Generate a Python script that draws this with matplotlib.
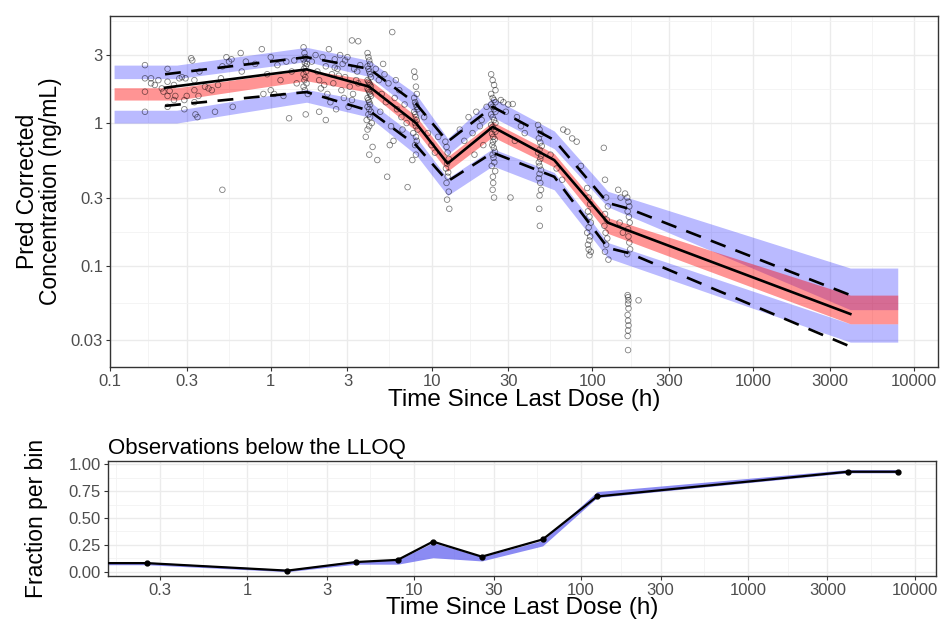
import numpy as np
import matplotlib
matplotlib.use('Agg')
import matplotlib.pyplot as plt
from matplotlib.ticker import FixedLocator, FixedFormatter, NullFormatter

plt.rcParams['font.family'] = ['Liberation Sans', 'DejaVu Sans']

t1 = [0.165, 0.165, 0.165, 0.165, 0.18, 0.18, 0.19, 0.2, 0.21, 0.215, 0.228, 0.228, 0.228, 0.228, 0.235,
      0.25, 0.25, 0.255, 0.27, 0.28, 0.29, 0.29, 0.295, 0.3, 0.32, 0.325, 0.335, 0.335, 0.335, 0.34, 0.35,
      0.355, 0.36, 0.39, 0.41, 0.43, 0.45, 0.47, 0.49, 0.5, 0.53, 0.55, 0.57, 0.58, 0.65, 0.66, 0.7]
c1 = [2.55, 2.06, 1.66, 1.2, 2.06, 1.9, 1.85, 2.0, 1.75, 1.66, 2.4, 1.95, 1.55, 1.3, 1.68,
      1.85, 1.45, 1.55, 2.06, 2.1, 1.45, 1.25, 2.06, 1.55, 2.85, 2.75, 2.0, 1.7, 1.4, 1.15, 1.1,
      1.55, 2.3, 1.8, 1.75, 1.7, 1.2, 1.85, 2.06, 2.5, 2.9, 2.7, 2.8, 1.3, 3.1, 2.3, 2.7]
t2 = [0.8, 0.88, 0.95, 1.0, 1.05, 1.1, 1.2, 1.25, 1.3, 1.35, 0.9, 1.0, 1.15, 1.4, 1.45, 0.5]
c2 = [2.6, 3.3, 2.2, 2.9, 1.6, 2.55, 1.55, 2.7, 1.08, 2.3, 1.6, 1.7, 2.0, 2.75, 1.9, 0.34]
t3 = [1.6, 1.62, 1.64, 1.6, 1.63, 1.65, 1.61, 1.66, 1.6, 1.64, 1.62, 1.67, 1.6, 1.63, 1.7, 1.65, 1.68]
c3 = [3.4, 3.1, 2.9, 2.8, 2.65, 2.5, 2.4, 2.3, 2.2, 2.1, 2.0, 1.9, 1.8, 1.7, 1.6, 1.15, 2.6]
t4 = [1.8, 1.9, 1.95, 2.0, 2.05, 2.1, 2.2, 2.25, 2.3, 2.4, 2.45, 2.5, 2.6, 2.7, 2.75, 2.8, 2.9, 3.0, 3.1,
      3.2, 3.3, 3.4, 3.5, 3.6, 2.2, 2.35, 2.55, 2.65, 2.85, 3.05, 3.25, 3.45, 2.0, 2.15, 2.5, 2.9, 3.2, 3.5]
c4 = [2.7, 3.0, 2.3, 2.0, 1.75, 2.9, 2.5, 1.6, 3.3, 2.2, 1.9, 2.8, 2.4, 3.0, 1.7, 2.6, 2.1, 2.9, 1.8,
      3.8, 2.4, 2.0, 3.75, 2.55, 1.05, 1.4, 1.25, 2.15, 1.5, 1.3, 1.6, 2.3, 1.2, 1.85, 2.45, 2.75, 1.45, 1.9]
t5 = [4.0, 4.05, 4.1, 4.15, 4.0, 4.05, 4.1, 4.15, 4.2, 4.0, 4.05, 4.1, 4.15, 4.2, 4.0, 4.05, 4.1, 4.15,
      4.2, 4.0, 4.05, 4.1, 4.15, 4.0, 4.1, 4.2, 4.05, 4.15, 3.95, 4.25, 4.1, 4.0, 3.9, 4.3, 4.1]
c5 = [3.1, 2.9, 2.75, 2.6, 2.5, 2.4, 2.3, 2.2, 2.1, 2.0, 1.95, 1.9, 1.85, 1.8, 1.75, 1.7, 1.65, 1.6,
      1.55, 1.5, 1.45, 1.4, 1.35, 1.3, 1.25, 1.2, 1.15, 1.1, 1.05, 1.0, 0.95, 0.9, 0.8, 0.68, 0.6]
t6 = [4.5, 4.7, 4.9, 5.0, 5.2, 5.4, 5.6, 5.7, 5.9, 6.1, 6.3, 6.5, 6.8, 7.0, 4.6, 5.3, 5.8, 6.6, 4.8,
      5.1, 7.1, 6.0, 5.5]
c6 = [2.4, 2.0, 1.6, 2.6, 1.4, 1.9, 0.95, 4.35, 1.5, 1.25, 1.7, 1.1, 1.35, 1.0, 0.55, 0.42, 0.75, 0.9, 1.2,
      2.2, 0.355, 2.0, 0.7]
t7 = [7.8, 7.9, 8.0, 8.1, 7.8, 7.9, 8.0, 8.1, 8.2, 7.8, 7.9, 8.0, 8.1, 7.9, 8.0, 8.2, 7.7, 8.0, 8.1,
      7.9, 8.0, 7.6, 9.0, 9.5, 10.0, 10.5, 11.0]
c7 = [2.3, 2.1, 1.8, 1.6, 1.5, 1.4, 1.35, 1.3, 1.25, 1.2, 1.15, 1.1, 1.05, 1.0, 0.95, 0.9, 0.85, 0.8, 0.75,
      0.7, 0.6, 0.55, 1.1, 0.85, 0.7, 0.62, 0.8]
t8 = [12.2, 12.4, 12.6, 12.8, 12.5, 12.3, 12.7, 12.6, 12.4, 12.8, 12.5, 12.9,
      15, 16, 17, 18, 19, 20, 21, 22, 18.5, 20.5]
c8 = [0.74, 0.68, 0.62, 0.56, 0.52, 0.48, 0.45, 0.42, 0.38, 0.33, 0.29, 0.25,
      0.9, 0.75, 1.1, 0.85, 1.2, 0.95, 0.7, 1.3, 0.6, 1.05]
t9 = [23.5, 24, 24.5, 25, 23.5, 24, 24.5, 25, 23.5, 24, 24.5, 25, 23.5, 24, 24.5, 25, 23.5, 24, 24.5, 25,
      23.8, 24.2, 24.7, 24.1, 23.9, 24.4, 24.8, 24.0, 24.3, 24.6, 23.7, 24.9, 24.1, 24.2, 24.0, 24.5]
c9 = [2.2, 2.0, 1.85, 1.7, 1.6, 1.5, 1.45, 1.4, 1.35, 1.3, 1.25, 1.2, 1.15, 1.1, 1.05, 1.0, 0.97, 0.94, 0.9, 0.87,
      0.84, 0.8, 0.77, 0.74, 0.7, 0.67, 0.63, 0.6, 0.57, 0.53, 0.5, 0.46, 0.42, 0.38, 0.34, 0.3]
t10 = [27, 28, 30, 31, 32, 34, 36, 38, 29, 33,
       46, 47, 48, 46.5, 47.5, 48.5, 47, 46, 48, 47.5, 46.5, 47, 48, 47, 46.5, 47.5, 48, 47, 46.8, 47.2,
       55, 60, 66, 70, 75, 80, 85, 65]
c10 = [1.45, 1.4, 1.35, 0.3, 1.36, 1.1, 0.95, 0.85, 1.2, 0.75,
       0.97, 0.9, 0.84, 0.78, 0.73, 0.69, 0.65, 0.62, 0.59, 0.56, 0.53, 0.5, 0.47, 0.44, 0.41, 0.38, 0.34, 0.31, 0.25, 0.19,
       0.6, 0.48, 0.9, 0.87, 0.78, 0.74, 0.5, 0.4]
t11 = [93, 95, 97, 94, 96, 98, 95, 93, 97, 96, 94, 95, 98, 96,
       118, 120, 122, 125, 120, 123, 119, 121, 124, 122, 120, 126]
c11 = [0.35, 0.3, 0.27, 0.24, 0.22, 0.2, 0.185, 0.17, 0.16, 0.15, 0.14, 0.13, 0.125, 0.118,
       0.67, 0.4, 0.3, 0.26, 0.23, 0.21, 0.19, 0.17, 0.155, 0.14, 0.125, 0.11]
t12 = [145, 150, 160, 165, 168, 170, 166, 169, 171, 167, 168, 170, 172, 165, 148, 155,
       166, 167, 168, 167, 168, 166, 167, 168, 167, 166, 167, 194]
c12 = [0.34, 0.3, 0.32, 0.3, 0.28, 0.26, 0.24, 0.22, 0.2, 0.18, 0.16, 0.145, 0.13, 0.12, 0.2, 0.17,
       0.062, 0.06, 0.057, 0.054, 0.05, 0.045, 0.041, 0.038, 0.035, 0.032, 0.0255, 0.057]

obs_time = t1 + t2 + t3 + t4 + t5 + t6 + t7 + t8 + t9 + t10 + t11 + t12
obs_conc = c1 + c2 + c3 + c4 + c5 + c6 + c7 + c8 + c9 + c10 + c11 + c12
assert len(obs_time) == len(obs_conc)

# observed percentiles (5th, 50th, 95th)
obs_bin_t = [0.22, 1.67, 4.1, 8.0, 12.6, 24, 58, 125, 170, 4030]
obs_p05 = [1.32, 1.65, 1.22, 0.70, 0.39, 0.62, 0.42, 0.133, 0.122, 0.027]
obs_p50 = [1.77, 2.38, 1.80, 1.00, 0.52, 0.94, 0.55, 0.200, 0.175, 0.0457]
obs_p95 = [2.20, 2.90, 2.40, 1.37, 0.74, 1.30, 0.76, 0.275, 0.250, 0.062]

# simulated prediction intervals (CI of each percentile)
sim_t = [0.106, 0.26, 1.67, 4.1, 8.0, 12.6, 24, 58, 125, 4030, 7950]
lo_lo = [1.00, 1.00, 1.40, 1.10, 0.60, 0.31, 0.50, 0.34, 0.113, 0.029, 0.029]
lo_hi = [1.23, 1.23, 1.72, 1.42, 0.80, 0.41, 0.66, 0.45, 0.145, 0.039, 0.039]
md_lo = [1.45, 1.45, 1.98, 1.64, 0.88, 0.46, 0.80, 0.49, 0.168, 0.039, 0.039]
md_hi = [1.77, 1.77, 2.36, 2.02, 1.12, 0.58, 1.02, 0.61, 0.217, 0.062, 0.062]
hi_lo = [2.05, 2.05, 2.70, 2.12, 1.18, 0.60, 1.10, 0.66, 0.258, 0.049, 0.049]
hi_hi = [2.55, 2.55, 3.40, 2.75, 1.60, 0.78, 1.50, 0.88, 0.332, 0.096, 0.096]

# fraction below LLOQ
blq_t = [0.12, 0.25, 1.74, 4.5, 8.0, 13, 25.5, 59, 125, 3980, 7900]
blq_obs = [0.08, 0.08, 0.01, 0.09, 0.11, 0.28, 0.14, 0.30, 0.70, 0.93, 0.93]
blq_lo = [0.065, 0.065, 0.0, 0.07, 0.07, 0.13, 0.10, 0.24, 0.69, 0.92, 0.92]
blq_hi = [0.09, 0.09, 0.02, 0.10, 0.11, 0.27, 0.14, 0.29, 0.745, 0.95, 0.95]

top_xticks = [0.1, 0.3, 1, 3, 10, 30, 100, 300, 1000, 3000, 10000]
top_xlabels = ['0.1', '0.3', '1', '3', '10', '30', '100', '300', '1000', '3000', '10000']
top_yticks = [0.03, 0.1, 0.3, 1, 3]
top_ylabels = ['0.03', '0.1', '0.3', '1', '3']
bot_xticks = [0.3, 1, 3, 10, 30, 100, 300, 1000, 3000, 10000]
bot_xlabels = ['0.3', '1', '3', '10', '30', '100', '300', '1000', '3000', '10000']
bot_yticks = [0.0, 0.25, 0.5, 0.75, 1.0]
bot_ylabels = ['0.00', '0.25', '0.50', '0.75', '1.00']


def log_minor(ticks):
    lt = np.log10(ticks)
    mids = (lt[:-1] + lt[1:]) / 2
    step0 = lt[1] - lt[0]
    return 10 ** np.concatenate([[lt[0] - step0 / 2], mids, [lt[-1] + (lt[-1] - lt[-2]) / 2]])


def style(ax, xt, xl, yt, yl, yminor):
    ax.xaxis.set_major_locator(FixedLocator(xt))
    ax.xaxis.set_major_formatter(FixedFormatter(xl))
    ax.xaxis.set_minor_locator(FixedLocator(log_minor(xt)))
    ax.xaxis.set_minor_formatter(NullFormatter())
    ax.yaxis.set_major_locator(FixedLocator(yt))
    ax.yaxis.set_major_formatter(FixedFormatter(yl))
    ax.yaxis.set_minor_locator(FixedLocator(yminor))
    ax.yaxis.set_minor_formatter(NullFormatter())
    ax.grid(True, which='major', color='#ebebeb', lw=1.0)
    ax.grid(True, which='minor', color='#f3f3f3', lw=0.6)
    ax.set_axisbelow(True)
    ax.tick_params(which='major', direction='out', length=3, width=0.8, color='#333333',
                   labelsize=12, labelcolor='#4d4d4d', pad=2)
    ax.tick_params(which='minor', length=0)
    for s in ax.spines.values():
        s.set_color('#333333')
        s.set_linewidth(1.0)


fig = plt.figure(figsize=(9.43, 6.26), dpi=100)
ax1 = fig.add_axes([110 / 943, 1 - 367 / 626, 828 / 943, 351 / 626])
ax2 = fig.add_axes([108 / 943, 1 - 576 / 626, 828 / 943, 115 / 626])

# ---- top panel
ax1.set_xscale('log')
ax1.set_yscale('log')
ax1.fill_between(sim_t, lo_lo, lo_hi, color='#0000ff', alpha=0.27, lw=0)
ax1.fill_between(sim_t, hi_lo, hi_hi, color='#0000ff', alpha=0.27, lw=0)
ax1.fill_between(sim_t, md_lo, md_hi, color='#ff0000', alpha=0.42, lw=0)
ax1.scatter(obs_time, obs_conc, s=16, facecolors='none', edgecolors='black',
            linewidths=0.6, alpha=0.5, zorder=3)
ax1.plot(obs_bin_t, obs_p50, color='black', lw=1.9, zorder=4)
ax1.plot(obs_bin_t, obs_p05, color='black', lw=1.9, ls=(0, (6, 4)), zorder=4)
ax1.plot(obs_bin_t, obs_p95, color='black', lw=1.9, ls=(0, (6, 4)), zorder=4)
ax1.set_xlim(0.1, 14150)
ax1.set_ylim(0.0194, 5.64)
style(ax1, top_xticks, top_xlabels, top_yticks, top_ylabels, log_minor(top_yticks))
ax1.set_xlabel('Time Since Last Dose (h)', fontsize=17.5, labelpad=0)
ax1.set_ylabel('Pred Corrected\nConcentration (ng/mL)', fontsize=16.5, labelpad=6,
               linespacing=1.05)

# ---- bottom panel
ax2.set_xscale('log')
ax2.fill_between(blq_t, blq_lo, blq_hi, color='#5a5aee', alpha=0.7, lw=0)
ax2.plot(blq_t, blq_obs, color='black', lw=1.6, marker='o', ms=3.5, zorder=4)
ax2.set_xlim(0.147, 13400)
ax2.set_ylim(-0.04, 1.03)
style(ax2, bot_xticks, bot_xlabels, bot_yticks, bot_ylabels,
      [0.125, 0.375, 0.625, 0.875])
ax2.set_xlabel('Time Since Last Dose (h)', fontsize=17.5, labelpad=-1)
ax2.set_ylabel('Fraction per bin', fontsize=16.5, labelpad=15)
ax2.set_title('Observations below the LLOQ', fontsize=16, loc='left', pad=5)

fig.savefig('out.png', dpi=100)
